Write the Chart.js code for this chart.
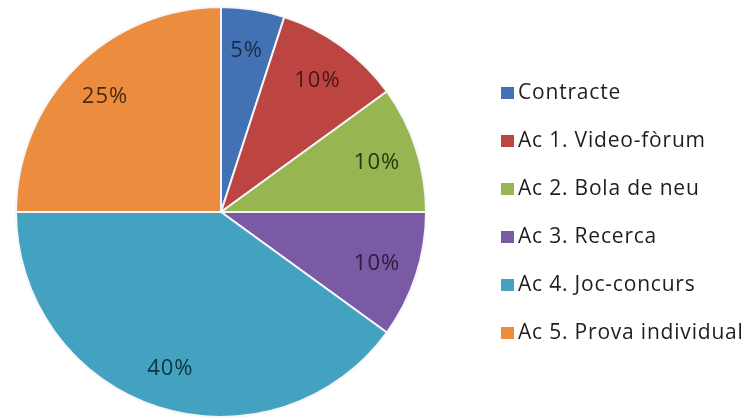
<!DOCTYPE html>
<html>
<head>
<meta charset="utf-8">
<script src="https://cdn.jsdelivr.net/npm/chart.js@4/dist/chart.umd.min.js"></script>
<style>
  html, body { margin: 0; padding: 0; background: #fff; }
  #wrap { width: 752px; height: 419px; position: relative; }
</style>
</head>
<body>
<div id="wrap"><canvas id="pie"></canvas></div>
<script>
const categories = ["Contracte", "Ac 1. Video-fòrum", "Ac 2. Bola de neu", "Ac 3. Recerca", "Ac 4. Joc-concurs", "Ac 5. Prova individual"];
const shares = [5, 10, 10, 10, 40, 25];
const sliceColors = ["#4272b4", "#bc4542", "#97b551", "#7a5aa4", "#42a2c0", "#ec8c3e"];
const labelColors = ["#1c2a4a", "#4a1616", "#26360e", "#2a1c3e", "#10323f", "#4a2a0e"];

const FONT = "'Open Sans', sans-serif";

// percentage labels inside each slice
const sliceLabels = {
  id: "sliceLabels",
  afterDatasetsDraw(chart) {
    const ctx = chart.ctx;
    const meta = chart.getDatasetMeta(0);
    ctx.save();
    ctx.font = "22px " + FONT;
    ctx.letterSpacing = "1px";
    ctx.textAlign = "center";
    ctx.textBaseline = "middle";
    meta.data.forEach((arc, i) => {
      const p = arc.getProps(["x", "y", "startAngle", "endAngle", "outerRadius"], true);
      const mid = (p.startAngle + p.endAngle) / 2;
      const r = p.outerRadius * 0.8;
      ctx.fillStyle = labelColors[i];
      ctx.fillText(shares[i] + "%", p.x + Math.cos(mid) * r, p.y + Math.sin(mid) * r + 1);
    });
    ctx.restore();
  }
};

// legend to the right of the pie
const sideLegend = {
  id: "sideLegend",
  afterDraw(chart) {
    const ctx = chart.ctx;
    const x0 = 501, y0 = 93, step = 48, bw = 13, bh = 12;
    ctx.save();
    ctx.font = "21px " + FONT;
    ctx.letterSpacing = "0.8px";
    ctx.textBaseline = "middle";
    chart.data.labels.forEach((lab, i) => {
      const y = y0 + i * step;
      ctx.fillStyle = sliceColors[i];
      ctx.fillRect(x0, y - bh / 2, bw, bh);
      ctx.fillStyle = "#1e1e1e";
      ctx.fillText(lab, x0 + bw + 4, y);
    });
    ctx.restore();
  }
};

new Chart(document.getElementById("pie"), {
  type: "pie",
  data: {
    labels: categories,
    datasets: [{
      data: shares,
      backgroundColor: sliceColors,
      borderColor: "#f6f6fa",
      borderWidth: 2
    }]
  },
  options: {
    responsive: true,
    maintainAspectRatio: false,
    animation: false,
    layout: { padding: { left: 15, right: 325, top: 6, bottom: 1 } },
    plugins: {
      legend: { display: false },
      tooltip: { enabled: false }
    }
  },
  plugins: [sliceLabels, sideLegend]
});
</script>
</body>
</html>
